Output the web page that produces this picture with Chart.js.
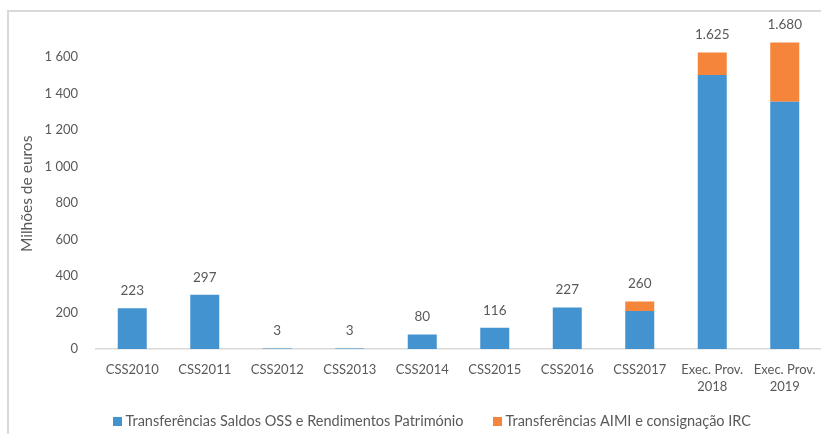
<!DOCTYPE html>
<html>
<head>
<meta charset="UTF-8" />
<title>Transferências</title>
<style type="text/css">
    html, body { margin: 0; padding: 0; background: #ffffff; }
    .chartBox { width: 821px; height: 434px; }
</style>
</head>
<body>
<div class="chartBox"><canvas id="myChart"></canvas></div>

<script src="https://cdn.jsdelivr.net/npm/chart.js"></script>
<script>
// data
const categories = ['CSS2010', 'CSS2011', 'CSS2012', 'CSS2013', 'CSS2014', 'CSS2015',
    'CSS2016', 'CSS2017', ['Exec. Prov.', '2018'], ['Exec. Prov.', '2019']];
const saldosOss = [223, 297, 3, 3, 80, 116, 227, 208, 1501, 1355];
const aimiIrc = [0, 0, 0, 0, 0, 0, 0, 52, 124, 325];
const seriesNames = ['Transferências Saldos OSS e Rendimentos Património',
    'Transferências AIMI e consignação IRC'];
const yTicks = [0, 200, 400, 600, 800, 1000, 1200, 1400, 1600];

const blue = '#4393D1';
const orange = '#F5853A';
const textGrey = '#595959';

Chart.defaults.font.family = 'Lato';
Chart.defaults.font.size = 13;
Chart.defaults.color = textGrey;

function fmt(v, sep) {
    const s = String(Math.round(v));
    return s.length > 3 ? s.slice(0, -3) + sep + s.slice(-3) : s;
}

// frame round the chart
const framePlugin = {
    id: 'frame',
    beforeDraw(chart) {
        const ctx = chart.ctx;
        ctx.save();
        ctx.strokeStyle = '#d9d9d9';
        ctx.lineWidth = 2;
        ctx.beginPath();
        ctx.moveTo(8, chart.height + 2);
        ctx.lineTo(8, 11);
        ctx.lineTo(chart.width + 2, 11);
        ctx.stroke();
        ctx.restore();
    }
};

// totals above the stacks
const totalsPlugin = {
    id: 'totals',
    afterDatasetsDraw(chart) {
        const ctx = chart.ctx;
        const x = chart.scales.x, y = chart.scales.y;
        ctx.save();
        ctx.font = '13.5px Lato';
        ctx.fillStyle = textGrey;
        ctx.textAlign = 'center';
        ctx.textBaseline = 'middle';
        categories.forEach((c, i) => {
            const total = saldosOss[i] + aimiIrc[i];
            ctx.fillText(fmt(total, '.'), x.getPixelForValue(i), y.getPixelForValue(total) - 17.5);
        });
        ctx.restore();
    }
};

// legend under the chart
const legendPlugin = {
    id: 'bottomLegend',
    afterDraw(chart) {
        const ctx = chart.ctx;
        const cy = 421.5;
        ctx.save();
        ctx.font = '14.5px Lato';
        ctx.textBaseline = 'middle';
        ctx.textAlign = 'left';
        let x = 113;
        const starts = [113, 493];
        chart.data.datasets.forEach((ds, i) => {
            x = Math.max(starts[i], x);
            ctx.fillStyle = ds.backgroundColor;
            ctx.fillRect(x, cy - 4.5, 9, 9);
            ctx.fillStyle = textGrey;
            ctx.fillText(ds.label, x + 12.5, cy);
            x += 12.5 + ctx.measureText(ds.label).width + 20;
        });
        ctx.restore();
    }
};

const config = {
    type: 'bar',
    data: {
        labels: categories,
        datasets: [
            { label: seriesNames[0], data: saldosOss, backgroundColor: blue },
            { label: seriesNames[1], data: aimiIrc, backgroundColor: orange }
        ]
    },
    options: {
        responsive: true,
        maintainAspectRatio: false,
        animation: false,
        devicePixelRatio: 1,
        barPercentage: 0.4,
        categoryPercentage: 1,
        layout: { padding: { top: 38.75, right: 0, bottom: 30, left: 0 } },
        plugins: {
            legend: { display: false },
            tooltip: { enabled: false }
        },
        scales: {
            x: {
                stacked: true,
                grid: { display: false, drawTicks: false },
                border: { display: true, color: '#d9d9d9', width: 1.5 },
                ticks: { padding: 12.5, maxRotation: 0, autoSkip: false, font: { size: 13, lineHeight: 1.3 } },
                afterFit(s) {
                    s.height = 434 - 349 - 30;
                    s.paddingLeft = 0;
                    s.paddingRight = 0;
                }
            },
            y: {
                stacked: true,
                min: 0,
                max: 1700,
                grid: { display: false, drawTicks: false },
                border: { display: false },
                ticks: {
                    stepSize: 200,
                    padding: 18,
                    callback: v => yTicks.includes(v) ? fmt(v, ' ') : ''
                },
                title: {
                    display: true,
                    text: 'Milhões de euros',
                    font: { size: 15.5, lineHeight: 1.2 },
                    padding: { top: 17.7, bottom: 0 }
                },
                afterFit(s) {
                    s.width = 96;
                    s.paddingTop = 0;
                    s.paddingBottom = 0;
                }
            }
        }
    },
    plugins: [framePlugin, totalsPlugin, legendPlugin]
};

const myChart = new Chart(document.getElementById('myChart'), config);
</script>
</body>
</html>
